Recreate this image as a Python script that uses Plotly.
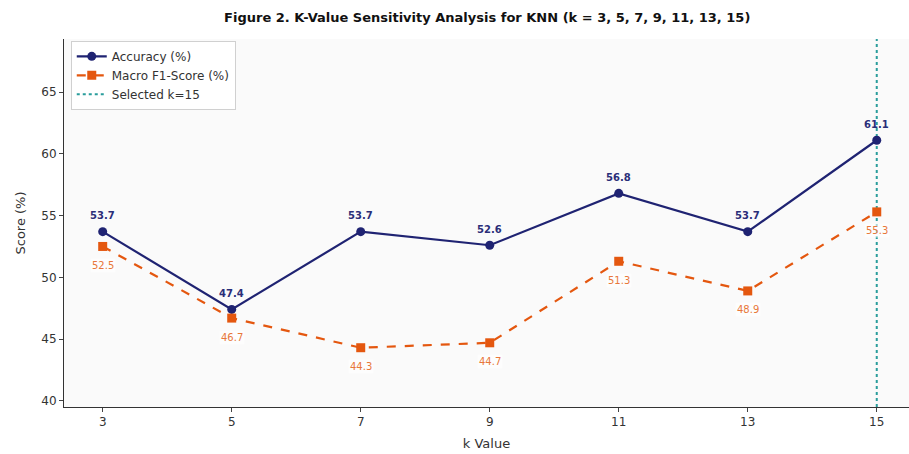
import plotly.graph_objects as go

k_values = [3, 5, 7, 9, 11, 13, 15]
accuracy = [53.7, 47.4, 53.7, 52.6, 56.8, 53.7, 61.1]
macro_f1 = [52.5, 46.7, 44.3, 44.7, 51.3, 48.9, 55.3]
selected_k = 15
y_ticks = [40, 45, 50, 55, 60, 65]

NAVY = "#1f2372"
ORANGE = "#e4570f"
TEAL = "#2a9d9c"
FONT = "DejaVu Sans"

fig = go.Figure()
fig.add_trace(go.Scatter(
    x=k_values, y=accuracy, mode="lines+markers", name="Accuracy (%)",
    line=dict(color=NAVY, width=2.2),
    marker=dict(symbol="circle", size=9, color=NAVY),
))
fig.add_trace(go.Scatter(
    x=k_values, y=macro_f1, mode="lines+markers", name="Macro F1-Score (%)",
    line=dict(color=ORANGE, width=2.2, dash="dash"),
    marker=dict(symbol="square", size=9, color=ORANGE),
))
fig.add_trace(go.Scatter(
    x=[None], y=[None], mode="lines", name=f"Selected k={selected_k}",
    line=dict(color=TEAL, width=2, dash="dot"),
))
fig.add_vline(x=selected_k, line=dict(color=TEAL, width=2, dash="dot"), layer="below")

for k, a in zip(k_values, accuracy):
    fig.add_annotation(x=k, y=a, text=f"<b>{a:.1f}</b>", showarrow=False, yshift=16,
                       font=dict(family=FONT, size=10, color="#2a2e78"))
for k, f in zip(k_values, macro_f1):
    fig.add_annotation(x=k, y=f, text=f"{f:.1f}", showarrow=False, yshift=-19,
                       bgcolor="rgba(255,255,255,0.6)",
                       font=dict(family=FONT, size=10, color="#e8773a"))

fig.update_layout(
    width=909, height=454,
    margin=dict(l=64, r=0, t=39, b=47),
    paper_bgcolor="white", plot_bgcolor="#fafafa",
    font=dict(family=FONT, size=12, color="#333"),
    title=dict(text="<b>Figure 2. K-Value Sensitivity Analysis for KNN (k = 3, 5, 7, 9, 11, 13, 15)</b>",
               x=0.536, xanchor="center", y=0.962, yanchor="middle",
               font=dict(family=FONT, size=13, color="#111")),
    legend=dict(x=0.008, y=0.995, xanchor="left", yanchor="top",
                bgcolor="rgba(255,255,255,0.85)", bordercolor="#d0d0d0", borderwidth=1,
                font=dict(family=FONT, size=12, color="#333"), tracegroupgap=0),
    showlegend=True,
)
fig.update_xaxes(range=[2.4, 15.5], tickvals=k_values, ticks="outside", ticklen=4,
                 showgrid=False, zeroline=False, showline=True, linecolor="#333", linewidth=1,
                 title=dict(text="k Value", font=dict(family=FONT, size=13), standoff=10),
                 tickfont=dict(family=FONT, size=12, color="#333"))
fig.update_yaxes(range=[39.5, 69.3], tickvals=y_ticks, ticks="outside", ticklen=4,
                 showgrid=False, zeroline=False, showline=True, linecolor="#333", linewidth=1,
                 title=dict(text="Score (%)", font=dict(family=FONT, size=13), standoff=12),
                 tickfont=dict(family=FONT, size=12, color="#333"))

fig.write_html("out.html")
